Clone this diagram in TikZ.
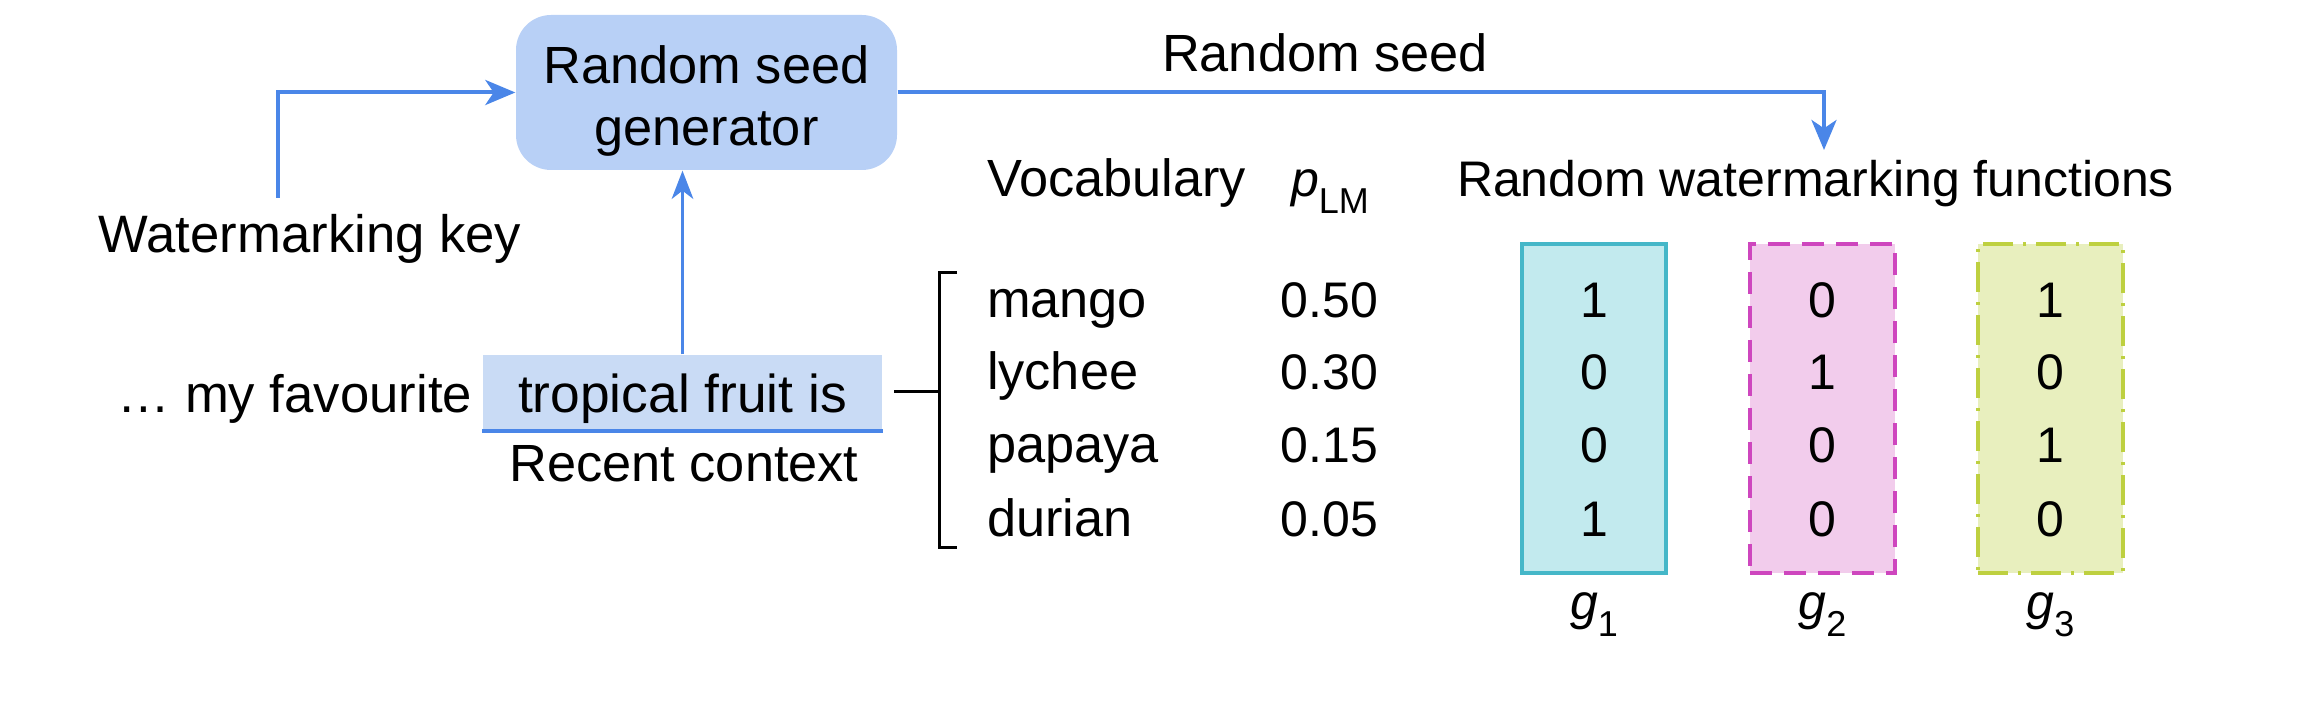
\documentclass[tikz,border=0pt]{standalone}
\usepackage{fontspec}
\setmainfont{Liberation Sans}
\usetikzlibrary{arrows.meta}
\definecolor{arrblue}{RGB}{74,134,232}
\definecolor{rsgfill}{RGB}{184,208,246}
\definecolor{ctxfill}{RGB}{201,219,245}
\definecolor{gafill}{RGB}{194,234,238}
\definecolor{gadraw}{RGB}{69,183,200}
\definecolor{gbfill}{RGB}{242,204,236}
\definecolor{gbdraw}{RGB}{206,70,190}
\definecolor{gcfill}{RGB}{232,239,190}
\definecolor{gcdraw}{RGB}{190,208,64}
\newcommand{\subsc}[1]{\raisebox{-4.9pt}{\fontsize{10.8pt}{12pt}\selectfont #1}}
\begin{document}
\begin{tikzpicture}[x=0.3pt,y=-0.3pt,
  font=\fontsize{15.7pt}{18.6pt}\selectfont,
  txt/.style={inner sep=0pt, outer sep=0pt},
  small/.style={font=\fontsize{15pt}{18pt}\selectfont},
  arr/.style={draw=arrblue, line width=1.2pt, -{Stealth[length=9pt,width=7.5pt,inset=2.5pt]}},
  thinarr/.style={draw=arrblue, line width=0.8pt, -{Stealth[length=8.5pt,width=6.5pt,inset=2.5pt]}},
  brk/.style={draw=black, line width=0.9pt},
  gbox/.style={rectangle, inner sep=0pt, minimum width=43.35pt, minimum height=98.7pt, line width=1.2pt}
]
\useasboundingbox (0,0) rectangle (2320,704);

% Random seed generator
\node[rectangle, rounded corners=10.5pt, fill=rsgfill, minimum width=114.3pt, minimum height=46.5pt, inner sep=0pt] (rsg) at (706.5,92.5) {};
\node[txt, align=center] (rsgtext) at (706.5,101) {Random seed\\generator};

% Watermarking key
\node[txt, anchor=base, font=\fontsize{15.8pt}{18pt}\selectfont] (wkey) at (310,253) {Watermarking key};
\coordinate (wk) at (278,198);
\draw[arr] (wk) |- (rsg.west);

% Context
\node[txt, anchor=base east, font=\fontsize{15.8pt}{18pt}\selectfont] (fav) at (472,413) {… my favourite};
\node[rectangle, fill=ctxfill, minimum width=119.7pt, minimum height=23.1pt, inner sep=0pt, text height=11.7pt, text depth=0pt, font=\fontsize{16pt}{18pt}\selectfont] (ctx) at (682.5,393.5) {tropical fruit is};
\draw[arrblue, line width=1.2pt] ([yshift=0.6pt]ctx.south west) -- ([yshift=0.6pt]ctx.south east);
\node[txt, anchor=base] (rc) at (684,482) {Recent context};
\draw[thinarr] (ctx.north) -- (ctx.north |- rsg.south);

% Bracket
\coordinate (bs) at (894,392);
\coordinate (bm) at (939,392);
\coordinate (bt) at (939,273);
\coordinate (bb) at (939,548);
\draw[brk] (bs) -- (bm);
\draw[brk] ([xshift=5.4pt]bt) -- (bt) -- (bb) -- ([xshift=5.4pt]bb);

% Vocabulary table
\node[txt, anchor=base west] (voc) at (987,197) {Vocabulary};
\node[txt, anchor=base west, small] (plm) at (1291,197) {\itshape p\upshape\subsc{LM}};
\node[txt, anchor=base west] (w1) at (987,318) {mango};
\node[txt, anchor=base west] (w2) at (987,390) {lychee};
\node[txt, anchor=base west] (w3) at (987,463) {papaya};
\node[txt, anchor=base west] (w4) at (987,537) {durian};
\node[txt, anchor=base east, small] (p1) at (1378,318) {0.50};
\node[txt, anchor=base east, small] (p2) at (1378,390) {0.30};
\node[txt, anchor=base east, small] (p3) at (1378,463) {0.15};
\node[txt, anchor=base east, small] (p4) at (1378,537) {0.05};

% Random seed arrow
\node[txt, anchor=base] (rslabel) at (1325,72) {Random seed};
\coordinate (seedtip) at (1824,150);
\draw[arr] (rsg.east) -| (seedtip);
\node[txt, anchor=base west, small] (rwf) at (1457,197) {Random watermarking functions};

% g boxes
\node[gbox, fill=gafill, draw=gadraw] (g1) at (1594,408.5) {};
\node[gbox, fill=gbfill, draw=gbdraw, dash pattern=on 6.6pt off 3.6pt] (g2) at (1822.5,408.5) {};
\node[gbox, fill=gcfill, draw=gcdraw, dash pattern=on 9pt off 3pt on 0.9pt off 3pt] (g3) at (2050.5,408.5) {};

\begin{scope}[every node/.style={txt, anchor=base, small}]
\node (a1) at (1594,318) {1};
\node (a2) at (1594,390) {0};
\node (a3) at (1594,463) {0};
\node (a4) at (1594,537) {1};
\node (b1) at (1822.5,318) {0};
\node (b2) at (1822.5,390) {1};
\node (b3) at (1822.5,463) {0};
\node (b4) at (1822.5,537) {0};
\node (c1) at (2050.5,318) {1};
\node (c2) at (2050.5,390) {0};
\node (c3) at (2050.5,463) {1};
\node (c4) at (2050.5,537) {0};
\node (gl1) at (1594,620) {\itshape g\upshape\subsc{1}};
\node (gl2) at (1822.5,620) {\itshape g\upshape\subsc{2}};
\node (gl3) at (2050.5,620) {\itshape g\upshape\subsc{3}};
\end{scope}
\end{tikzpicture}
\end{document}
